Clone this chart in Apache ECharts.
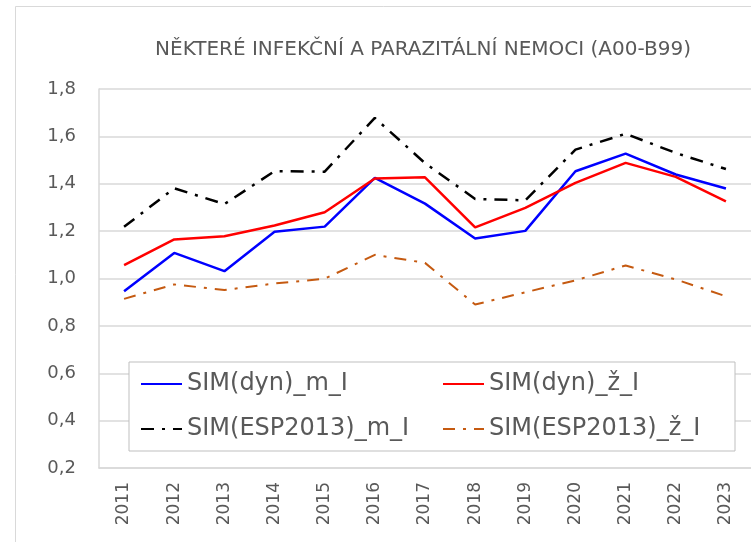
<!DOCTYPE html>
<html>
<head>
<meta charset="utf-8">
<script src="https://cdn.jsdelivr.net/npm/echarts@6/dist/echarts.min.js"></script>
<style>
 html,body{margin:0;padding:0;background:#fff;}
 #chart{width:751px;height:542px;}
</style>
</head>
<body>
<div id="chart"></div>
<script>
var years = ['2011','2012','2013','2014','2015','2016','2017','2018','2019','2020','2021','2022','2023'];
var yTicks = [0.2, 0.4, 0.6, 0.8, 1.0, 1.2, 1.4, 1.6, 1.8];

var dynM = [0.946, 1.108, 1.031, 1.197, 1.219, 1.425, 1.316, 1.169, 1.201, 1.453, 1.527, 1.439, 1.380];
var dynZ = [1.056, 1.165, 1.178, 1.224, 1.280, 1.422, 1.427, 1.216, 1.298, 1.404, 1.488, 1.429, 1.326];
var espM = [1.218, 1.381, 1.314, 1.453, 1.451, 1.678, 1.487, 1.336, 1.330, 1.544, 1.611, 1.530, 1.462];
var espZ = [0.914, 0.975, 0.951, 0.979, 0.999, 1.100, 1.066, 0.890, 0.942, 0.992, 1.055, 0.996, 0.925];

var chart = echarts.init(document.getElementById('chart'));
var font = 'DejaVu Sans';
var gray = '#595959';

var option = {
    animation: false,
    backgroundColor: '#fff',
    title: {
        text: 'NĚKTERÉ INFEKČNÍ A PARAZITÁLNÍ NEMOCI (A00-B99)',
        left: 418,
        textAlign: 'center',
        top: 35,
        textStyle: { color: gray, fontSize: 20, fontWeight: 'normal', fontFamily: font }
    },
    graphic: [{
        type: 'rect',
        shape: { x: 15.5, y: 6.5, width: 800, height: 600 },
        style: { fill: 'none', stroke: '#d9d9d9', lineWidth: 1 },
        silent: true
    }],
    legend: {
        left: 129,
        top: 362,
        width: 640,
        padding: [10, 12, 10, 11],
        itemWidth: 41,
        itemHeight: 14,
        itemGap: 21,
        backgroundColor: '#fff',
        borderColor: '#bfbfbf',
        borderWidth: 1,
        itemStyle: { opacity: 0 },
        textStyle: { color: gray, fontSize: 24, fontFamily: font, width: 234, lineHeight: 14 },
        data: ['SIM(dyn)_m_I', 'SIM(dyn)_ž_I', 'SIM(ESP2013)_m_I', 'SIM(ESP2013)_ž_I']
    },
    grid: { left: 99, top: 89, width: 663, height: 379 },
    xAxis: {
        type: 'category',
        data: years,
        axisLine: { lineStyle: { color: '#d9d9d9', width: 1.5 } },
        axisTick: { show: false },
        axisLabel: { rotate: 90, color: gray, fontSize: 17, fontFamily: font, margin: 14 }
    },
    yAxis: {
        type: 'value',
        min: yTicks[0],
        max: yTicks[yTicks.length - 1],
        interval: 0.2,
        axisLine: { show: true, lineStyle: { color: '#d9d9d9', width: 1.5 } },
        axisTick: { show: false },
        splitLine: { lineStyle: { color: '#d9d9d9', width: 1.5 } },
        axisLabel: {
            color: gray, fontSize: 18, fontFamily: font, margin: 23,
            formatter: function (v) { return v.toFixed(1).replace('.', ','); }
        }
    },
    series: [
        {
            name: 'SIM(dyn)_m_I', type: 'line', data: dynM, symbol: 'none', z: 3,
            lineStyle: { color: '#0000ff', width: 2.5 }, itemStyle: { color: '#0000ff' }
        },
        {
            name: 'SIM(dyn)_ž_I', type: 'line', data: dynZ, symbol: 'none', z: 4,
            lineStyle: { color: '#ff0000', width: 2.5 }, itemStyle: { color: '#ff0000' }
        },
        {
            name: 'SIM(ESP2013)_m_I', type: 'line', data: espM, symbol: 'none', z: 2,
            lineStyle: { color: '#000000', width: 2.5, type: [13, 8, 3, 8] }, itemStyle: { color: '#000000' }
        },
        {
            name: 'SIM(ESP2013)_ž_I', type: 'line', data: espZ, symbol: 'none', z: 2,
            lineStyle: { color: '#c55a11', width: 2, type: [12, 8, 3, 8] }, itemStyle: { color: '#c55a11' }
        }
    ]
};
chart.setOption(option);
</script>
</body>
</html>
